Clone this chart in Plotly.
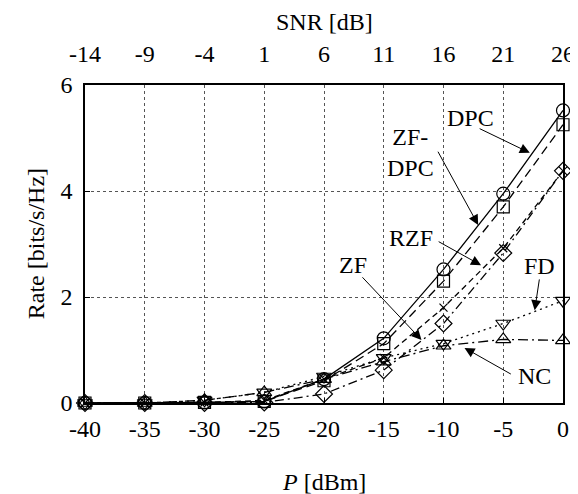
import plotly.graph_objects as go

P_dBm = [-40, -35, -30, -25, -20, -15, -10, -5, 0]
DPC = [0.0, 0.0, 0.01, 0.03, 0.45, 1.22, 2.52, 3.95, 5.52]
ZF_DPC = [0.0, 0.0, 0.01, 0.03, 0.42, 1.12, 2.30, 3.70, 5.25]
RZF = [0.0, 0.0, 0.01, 0.05, 0.45, 0.85, 1.80, 2.92, 4.38]
ZF = [0.0, 0.0, 0.0, 0.01, 0.17, 0.62, 1.50, 2.83, 4.38]
FD = [0.0, 0.0, 0.05, 0.20, 0.50, 0.85, 1.12, 1.50, 1.93]
NC = [0.0, 0.0, 0.05, 0.20, 0.45, 0.78, 1.08, 1.20, 1.18]

x_ticks = [-40, -35, -30, -25, -20, -15, -10, -5, 0]
x_ticktext = ["-40", "-35", "-30", "-25", "-20", "-15", "-10", "-5", "0"]
snr_ticks = [-14, -9, -4, 1, 6, 11, 16, 21, 26]
snr_ticktext = ["-14", "-9", "-4", "1", "6", "11", "16", "21", "26"]
y_ticks = [0, 2, 4, 6]

FONT = "Liberation Serif, Times New Roman, serif"
TICK = 24

series = [
    ("DPC", DPC, "solid", "circle-open", 13),
    ("ZF-DPC", ZF_DPC, "9px,5px", "square-open", 12),
    ("RZF", RZF, "6px,4px", "x-thin-open", 8),
    ("ZF", ZF, "9px,4px,2px,4px", "diamond-open", 13),
    ("FD", FD, "2px,4px", "triangle-down-open", 13),
    ("NC", NC, "10px,4px,2px,4px", "triangle-up-open", 13),
]

fig = go.Figure()
for name, vals, dash, sym, msize in series:
    fig.add_trace(go.Scatter(
        x=P_dBm, y=vals, mode="lines+markers", name=name,
        line=dict(color="black", width=1.3, dash=dash),
        marker=dict(symbol=sym, size=msize, color="black",
                    line=dict(color="black", width=1.2)),
        showlegend=False, cliponaxis=False,
    ))

# invisible trace to activate the top SNR axis
fig.add_trace(go.Scatter(x=[snr_ticks[0], snr_ticks[-1]], y=[0, 0], xaxis="x2",
                         mode="lines", line=dict(width=0), opacity=0,
                         showlegend=False, hoverinfo="skip"))

fig.update_layout(
    width=578, height=494,
    margin=dict(l=77, r=11, t=77, b=99),
    paper_bgcolor="white", plot_bgcolor="white",
    font=dict(family=FONT, size=TICK, color="black"),
    xaxis=dict(range=[-40, 0], tickvals=x_ticks, ticktext=x_ticktext,
               showgrid=True, gridcolor="#555", griddash="dot", gridwidth=1,
               showline=True, linecolor="black", linewidth=1.5, mirror=False,
               ticks="inside", ticklen=5, tickcolor="black",
               zeroline=False, tickfont=dict(size=TICK), ticklabelstandoff=3),
    xaxis2=dict(range=[-14, 26], tickvals=snr_ticks, ticktext=snr_ticktext,
                overlaying="x", side="top", showgrid=False,
                showline=True, linecolor="black", linewidth=1.5,
                ticks="", zeroline=False, tickfont=dict(size=TICK),
                ticklabelstandoff=12),
    yaxis=dict(range=[0, 6], tickvals=y_ticks, ticktext=[str(v) for v in y_ticks],
               showgrid=True, gridcolor="#555", griddash="dot", gridwidth=1,
               showline=True, linecolor="black", linewidth=1.5, mirror=True,
               ticks="inside", ticklen=5, tickcolor="black",
               zeroline=False, tickfont=dict(size=TICK), ticklabelstandoff=6),
)

def xpaper(px):
    return (px - 77) / 490.0

def ypaper(py):
    return (395 - py) / 318.0

# axis titles
fig.add_annotation(text="SNR [dB]", xref="paper", yref="paper", x=0.5, y=ypaper(14),
                   showarrow=False, font=dict(size=TICK), xanchor="center", yanchor="middle")
fig.add_annotation(text="<i>P</i> [dBm]", xref="paper", yref="paper", x=0.5, y=ypaper(474),
                   showarrow=False, font=dict(size=TICK), xanchor="center", yanchor="middle")
fig.add_annotation(text="Rate [bits/s/Hz]", xref="paper", yref="paper", x=xpaper(27), y=0.5,
                   showarrow=False, textangle=-90, font=dict(size=TICK),
                   xanchor="center", yanchor="middle")

# curve labels
labels = [
    ("DPC", -7.76, 5.38),
    ("ZF-<br>DPC", -12.73, 4.72),
    ("RZF", -12.73, 3.11),
    ("ZF", -17.6, 2.6),
    ("FD", -1.96, 2.58),
    ("NC", -2.37, 0.51),
]
for t, lx, ly in labels:
    fig.add_annotation(text=t, x=lx, y=ly, xref="x", yref="y", showarrow=False,
                       font=dict(size=24), xanchor="center", yanchor="middle",
                       bgcolor="rgba(0,0,0,0)")

# arrows (tail -> head)
arrows = [
    (-7.1, 5.19, -2.78, 4.72),
    (-10.53, 4.77, -7.1, 3.36),
    (-10.53, 3.06, -6.86, 2.60),
    (-16.9, 2.40, -11.84, 1.19),
    (-1.96, 2.36, -2.37, 1.75),
    (-4.24, 0.53, -8.24, 1.04),
]
for tx, ty, hx, hy in arrows:
    fig.add_annotation(x=hx, y=hy, ax=tx, ay=ty, xref="x", yref="y",
                       axref="x", ayref="y", text="", showarrow=True,
                       arrowhead=2, arrowsize=2.0, arrowwidth=1, arrowcolor="black")

fig.write_html("out.html")
